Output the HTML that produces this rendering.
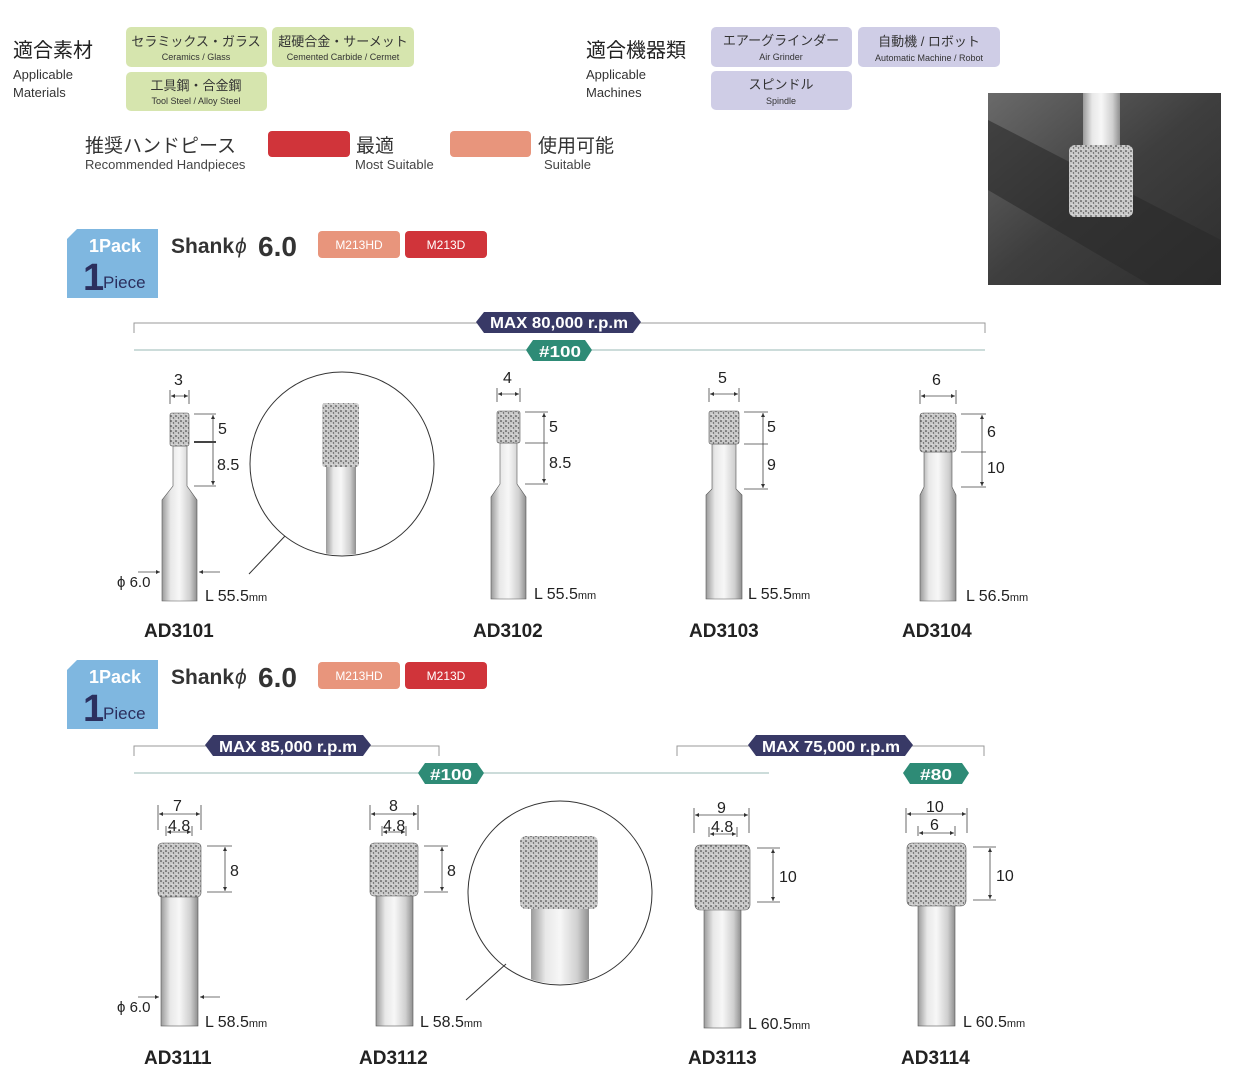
<!DOCTYPE html>
<html><head><meta charset="utf-8"><style>
html,body{margin:0;padding:0;background:#fff;}
svg{display:block;}
text{font-family:"Liberation Sans","Noto Sans CJK JP",sans-serif;}
</style></head><body>
<svg width="1243" height="1071" viewBox="0 0 1243 1071" xmlns="http://www.w3.org/2000/svg">
<defs>
<pattern id="dots" width="5" height="5" patternUnits="userSpaceOnUse">
<rect width="5" height="5" fill="#c9c9c9"/>
<circle cx="1" cy="1" r="0.8" fill="#333"/><circle cx="3.5" cy="3" r="0.7" fill="#555"/><circle cx="2" cy="4.2" r="0.5" fill="#fff"/>
</pattern>
<linearGradient id="sh" x1="0" x2="1">
<stop offset="0" stop-color="#9a9a9a"/><stop offset="0.25" stop-color="#e8e8e8"/><stop offset="0.5" stop-color="#f7f7f7"/><stop offset="0.8" stop-color="#cfcfcf"/><stop offset="1" stop-color="#8f8f8f"/>
</linearGradient>
<linearGradient id="photo" x1="0" y1="0" x2="1" y2="1">
<stop offset="0" stop-color="#6a6a6a"/><stop offset="0.5" stop-color="#3e3e3e"/><stop offset="1" stop-color="#2e2e2e"/>
</linearGradient>
<clipPath id="c1"><circle cx="342" cy="464" r="91"/></clipPath>
<clipPath id="c2"><circle cx="560" cy="893" r="91"/></clipPath>
<marker id="a" viewBox="0 0 6 6" refX="6" refY="3" markerWidth="5" markerHeight="5" orient="auto-start-reverse"><path d="M0,0 L6,3 L0,6 z" fill="#333"/></marker>
</defs>

<text x="13" y="57" font-size="20" fill="#222">適合素材</text>
<text x="13" y="79" font-size="13" fill="#333">Applicable</text>
<text x="13" y="97" font-size="13" fill="#333">Materials</text>
<g fill="#d6e5ae">
<rect x="126" y="27" width="141" height="40" rx="5"/><rect x="272" y="27" width="142" height="40" rx="5"/><rect x="126" y="72" width="141" height="39" rx="5"/>
</g>
<g text-anchor="middle" fill="#333">
<text x="196" y="46" font-size="13">セラミックス・ガラス</text><text x="196" y="60" font-size="9">Ceramics / Glass</text>
<text x="343" y="46" font-size="13">超硬合金・サーメット</text><text x="343" y="60" font-size="9">Cemented Carbide / Cermet</text>
<text x="196" y="90" font-size="13">工具鋼・合金鋼</text><text x="196" y="104" font-size="9">Tool Steel / Alloy Steel</text>
</g>
<text x="586" y="57" font-size="20" fill="#222">適合機器類</text>
<text x="586" y="79" font-size="13" fill="#333">Applicable</text>
<text x="586" y="97" font-size="13" fill="#333">Machines</text>
<g fill="#cfcde6">
<rect x="711" y="27" width="141" height="40" rx="5"/><rect x="858" y="27" width="142" height="40" rx="5"/><rect x="711" y="71" width="141" height="39" rx="5"/>
</g>
<g text-anchor="middle" fill="#333">
<text x="781" y="45" font-size="13">エアーグラインダー</text><text x="781" y="60" font-size="9">Air Grinder</text>
<text x="929" y="46" font-size="13">自動機 / ロボット</text><text x="929" y="61" font-size="9">Automatic Machine / Robot</text>
<text x="781" y="89" font-size="13">スピンドル</text><text x="781" y="104" font-size="9">Spindle</text>
</g>
<text x="85" y="152" font-size="19" fill="#333">推奨ハンドピース</text>
<text x="85" y="169" font-size="13" fill="#444">Recommended Handpieces</text>
<rect x="268" y="131" width="82" height="26" rx="4" fill="#d0343a"/>
<text x="356" y="152" font-size="19" fill="#333">最適</text>
<text x="355" y="169" font-size="13" fill="#444">Most Suitable</text>
<rect x="450" y="131" width="81" height="26" rx="4" fill="#e8957c"/>
<text x="538" y="152" font-size="19" fill="#333">使用可能</text>
<text x="544" y="169" font-size="13" fill="#444">Suitable</text>

<rect x="988" y="93" width="233" height="192" fill="url(#photo)"/>
<path d="M988,120 L1221,240 L1221,285 L1150,285 L988,190z" fill="#2a2a2a" opacity="0.6"/>
<rect x="1083" y="93" width="37" height="60" fill="url(#sh)"/>
<rect x="1069" y="145" width="64" height="72" rx="6" fill="url(#dots)"/>

<g id="pk">
<path d="M77,229 L158,229 L158,298 L67,298 L67,239 z" fill="#7fb7e0"/>
<text x="89" y="252" font-size="18" fill="#fff" font-weight="bold">1Pack</text>
<text x="83" y="290" font-size="38" fill="#2b2f5e" font-weight="bold">1</text>
<text x="103" y="288" font-size="17" fill="#2b2f5e">Piece</text>
<text x="171" y="253" font-size="21" fill="#333" font-weight="bold">Shank</text>
<text x="235" y="253" font-size="21" fill="#333" font-style="italic">ϕ</text>
<text x="258" y="256" font-size="28" fill="#333" font-weight="bold">6.0</text>
<rect x="318" y="231" width="82" height="27" rx="4" fill="#e8957c"/>
<text x="359" y="249" font-size="12" fill="#fff" text-anchor="middle">M213HD</text>
<rect x="405" y="231" width="82" height="27" rx="4" fill="#d0343a"/>
<text x="446" y="249" font-size="12" fill="#fff" text-anchor="middle">M213D</text>
</g>
<use href="#pk" y="431"/>

<g fill="none" stroke="#999" stroke-width="1">
<path d="M134,333 V323 H985 V333"/>
<path d="M134,350 H985" stroke="#9ab8b4"/>
<path d="M134,756 V746 H439 V756"/>
<path d="M677,756 V746 H984 V756"/>
<path d="M134,773 H769" stroke="#9ab8b4"/>
</g>
<g font-weight="bold" fill="#fff" font-size="16">
<path d="M484,312 H633 L641,322 L633,333 H484 L476,322z" fill="#383966"/><text x="490" y="328" textLength="138" lengthAdjust="spacingAndGlyphs">MAX 80,000 r.p.m</text>
<path d="M533,340 H585 L592,350 L585,361 H533 L526,350z" fill="#2e8b76"/><text x="539" y="357" textLength="42" lengthAdjust="spacingAndGlyphs">#100</text>
<path d="M213,735 H363 L371,745 L363,756 H213 L205,745z" fill="#383966"/><text x="219" y="752" textLength="138" lengthAdjust="spacingAndGlyphs">MAX 85,000 r.p.m</text>
<path d="M756,735 H905 L913,745 L905,756 H756 L748,745z" fill="#383966"/><text x="762" y="752" textLength="138" lengthAdjust="spacingAndGlyphs">MAX 75,000 r.p.m</text>
<path d="M425,763 H477 L484,773 L477,784 H425 L418,773z" fill="#2e8b76"/><text x="430" y="780" textLength="42" lengthAdjust="spacingAndGlyphs">#100</text>
<path d="M910,763 H962 L969,773 L962,784 H910 L903,773z" fill="#2e8b76"/><text x="920" y="780" textLength="32" lengthAdjust="spacingAndGlyphs">#80</text>
</g>

<g stroke="#555" stroke-width="0.6">
<path d="M173,446 H187 V486 L197,500 V601 H162 V500 L173,486z" fill="url(#sh)"/>
<rect x="170" y="413" width="19" height="33" rx="2" fill="url(#dots)"/>
<path d="M500,443 H517 V484 L526,497 V599 H491 V497 L500,484z" fill="url(#sh)"/>
<rect x="497" y="411" width="23" height="32" rx="2" fill="url(#dots)"/>
<path d="M712,444 H736 V489 L742,495 V599 H706 V495 L712,489z" fill="url(#sh)"/>
<rect x="709" y="411" width="30" height="33" rx="2" fill="url(#dots)"/>
<path d="M924,452 H952 V487 L956,495 V601 H920 V495 L924,487z" fill="url(#sh)"/>
<rect x="920" y="413" width="36" height="39" rx="3" fill="url(#dots)"/>
<rect x="161" y="895" width="37" height="131" fill="url(#sh)"/>
<rect x="158" y="843" width="43" height="54" rx="4" fill="url(#dots)"/>
<rect x="376" y="894" width="37" height="132" fill="url(#sh)"/>
<rect x="370" y="843" width="48" height="53" rx="4" fill="url(#dots)"/>
<rect x="704" y="908" width="37" height="120" fill="url(#sh)"/>
<rect x="695" y="845" width="55" height="65" rx="5" fill="url(#dots)"/>
<rect x="918" y="904" width="37" height="122" fill="url(#sh)"/>
<rect x="907" y="843" width="59" height="63" rx="5" fill="url(#dots)"/>
</g>

<g stroke="#444" stroke-width="0.8" fill="none">
<path d="M170,390 V404 M189,390 V404"/><path d="M171,396 H188" marker-start="url(#a)" marker-end="url(#a)"/>
<path d="M194,414 H216 M194,486 H216"/><path d="M213,415 V485" marker-start="url(#a)" marker-end="url(#a)"/>
<path d="M194,442 H216" stroke-width="2"/>
<path d="M497,388 V402 M520,388 V402"/><path d="M498,394 H519" marker-start="url(#a)" marker-end="url(#a)"/>
<path d="M525,412 H548 M525,443 H548 M525,484 H548"/><path d="M544,413 V483" marker-start="url(#a)" marker-end="url(#a)"/>
<path d="M709,388 V402 M739,388 V402"/><path d="M710,394 H738" marker-start="url(#a)" marker-end="url(#a)"/>
<path d="M744,412 H768 M744,444 H768 M744,489 H768"/><path d="M763,413 V488" marker-start="url(#a)" marker-end="url(#a)"/>
<path d="M920,390 V404 M956,390 V404"/><path d="M921,396 H955" marker-start="url(#a)" marker-end="url(#a)"/>
<path d="M961,414 H986 M961,452 H986 M961,487 H986"/><path d="M982,415 V486" marker-start="url(#a)" marker-end="url(#a)"/>
<path d="M138,572 H160" marker-end="url(#a)"/><path d="M220,572 H199" marker-end="url(#a)"/>
<path d="M138,997 H159" marker-end="url(#a)"/><path d="M220,997 H200" marker-end="url(#a)"/>
<path d="M158,805 V830 M201,805 V830"/><path d="M159,814 H200" marker-start="url(#a)" marker-end="url(#a)"/>
<path d="M166,826 V836 M192,826 V836"/><path d="M167,832 H191" marker-start="url(#a)" marker-end="url(#a)"/>
<path d="M207,846 H232 M207,892 H232"/><path d="M225,847 V891" marker-start="url(#a)" marker-end="url(#a)"/>
<path d="M370,805 V830 M418,805 V830"/><path d="M371,814 H417" marker-start="url(#a)" marker-end="url(#a)"/>
<path d="M382,826 V836 M406,826 V836"/><path d="M383,832 H405" marker-start="url(#a)" marker-end="url(#a)"/>
<path d="M424,846 H448 M424,892 H448"/><path d="M442,847 V891" marker-start="url(#a)" marker-end="url(#a)"/>
<path d="M694,808 V833 M749,808 V833"/><path d="M695,815 H748" marker-start="url(#a)" marker-end="url(#a)"/>
<path d="M709,827 V837 M737,827 V837"/><path d="M710,834 H736" marker-start="url(#a)" marker-end="url(#a)"/>
<path d="M757,848 H780 M757,902 H780"/><path d="M773,849 V901" marker-start="url(#a)" marker-end="url(#a)"/>
<path d="M906,808 V833 M967,808 V833"/><path d="M907,814 H966" marker-start="url(#a)" marker-end="url(#a)"/>
<path d="M918,826 V836 M955,826 V836"/><path d="M919,833 H954" marker-start="url(#a)" marker-end="url(#a)"/>
<path d="M973,847 H996 M973,900 H996"/><path d="M990,848 V899" marker-start="url(#a)" marker-end="url(#a)"/>
</g>
<g font-size="16" fill="#222">
<text x="174" y="385">3</text><text x="218" y="434">5</text><text x="217" y="470">8.5</text>
<text x="503" y="383">4</text><text x="549" y="432">5</text><text x="549" y="468">8.5</text>
<text x="718" y="383">5</text><text x="767" y="432">5</text><text x="767" y="470">9</text>
<text x="932" y="385">6</text><text x="987" y="437">6</text><text x="987" y="473">10</text>
<text x="117" y="587" font-size="15">ϕ 6.0</text>
<text x="205" y="601">L 55.5<tspan font-size="11">mm</tspan></text>
<text x="534" y="599">L 55.5<tspan font-size="11">mm</tspan></text>
<text x="748" y="599">L 55.5<tspan font-size="11">mm</tspan></text>
<text x="966" y="601">L 56.5<tspan font-size="11">mm</tspan></text>
<text x="173" y="811">7</text><text x="168" y="831">4.8</text><text x="230" y="876">8</text>
<text x="389" y="811">8</text><text x="383" y="831">4.8</text><text x="447" y="876">8</text>
<text x="717" y="813">9</text><text x="711" y="832">4.8</text><text x="779" y="882">10</text>
<text x="926" y="812">10</text><text x="930" y="830">6</text><text x="996" y="881">10</text>
<text x="117" y="1012" font-size="15">ϕ 6.0</text>
<text x="205" y="1027">L 58.5<tspan font-size="11">mm</tspan></text>
<text x="420" y="1027">L 58.5<tspan font-size="11">mm</tspan></text>
<text x="748" y="1029">L 60.5<tspan font-size="11">mm</tspan></text>
<text x="963" y="1027">L 60.5<tspan font-size="11">mm</tspan></text>
</g>
<g font-size="19" font-weight="bold" fill="#222">
<text x="144" y="637">AD3101</text><text x="473" y="637">AD3102</text><text x="689" y="637">AD3103</text><text x="902" y="637">AD3104</text>
<text x="144" y="1064">AD3111</text><text x="359" y="1064">AD3112</text><text x="688" y="1064">AD3113</text><text x="901" y="1064">AD3114</text>
</g>

<circle cx="342" cy="464" r="92" fill="#fff" stroke="#333" stroke-width="1"/>
<g clip-path="url(#c1)">
<rect x="326" y="465" width="30" height="100" fill="url(#sh)"/>
<rect x="322" y="403" width="37" height="64" rx="3" fill="url(#dots)"/>
</g>
<path d="M249,574 L285,536" stroke="#333" fill="none"/>
<circle cx="560" cy="893" r="92" fill="#fff" stroke="#333" stroke-width="1"/>
<g clip-path="url(#c2)">
<rect x="531" y="905" width="58" height="90" fill="url(#sh)"/>
<rect x="520" y="836" width="78" height="73" rx="6" fill="url(#dots)"/>
</g>
<path d="M466,1000 L506,964" stroke="#333" fill="none"/>
</svg>
</body></html>
